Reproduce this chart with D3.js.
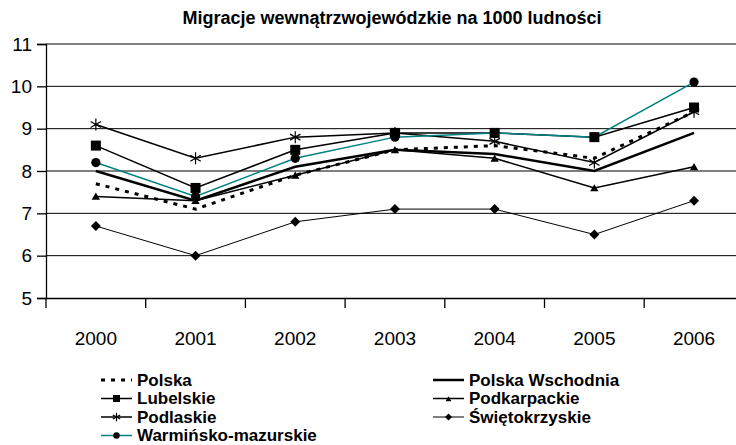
<!DOCTYPE html>
<html>
<head>
<meta charset="utf-8">
<script src="https://cdn.jsdelivr.net/npm/d3@7"></script>
<style>
  body { margin: 0; background: #fff; }
  svg { display: block; font-family: Arial, "Liberation Sans", sans-serif; }
</style>
</head>
<body>
<div id="chart"></div>
<script>
// data
var years = ['2000', '2001', '2002', '2003', '2004', '2005', '2006'];
var yTicks = [5, 6, 7, 8, 9, 10, 11];

var polska         = [7.7, 7.1, 7.9, 8.5, 8.6, 8.3, 9.4];
var polskaWsch     = [8.0, 7.3, 8.1, 8.5, 8.4, 8.0, 8.9];
var lubelskie      = [8.6, 7.6, 8.5, 8.9, 8.9, 8.8, 9.5];
var podkarpackie   = [7.4, 7.3, 7.9, 8.5, 8.3, 7.6, 8.1];
var podlaskie      = [9.1, 8.3, 8.8, 8.9, 8.7, 8.2, 9.4];
var swietokrzyskie = [6.7, 6.0, 6.8, 7.1, 7.1, 6.5, 7.3];
var warminsko      = [8.2, 7.4, 8.3, 8.8, 8.9, 8.8, 10.1];

var series = [
  {name: 'Polska', values: polska, color: '#000', width: 3, dash: '4,6', marker: null},
  {name: 'Polska Wschodnia', values: polskaWsch, color: '#000', width: 2.5, dash: null, marker: null},
  {name: 'Lubelskie', values: lubelskie, color: '#000', width: 1.5, dash: null, marker: 'square'},
  {name: 'Podkarpackie', values: podkarpackie, color: '#000', width: 1.5, dash: null, marker: 'triangle'},
  {name: 'Podlaskie', values: podlaskie, color: '#000', width: 1.5, dash: null, marker: 'star'},
  {name: 'Świętokrzyskie', values: swietokrzyskie, color: '#000', width: 1, dash: null, marker: 'diamond'},
  {name: 'Warmińsko-mazurskie', values: warminsko, color: '#008080', width: 1.5, dash: null, marker: 'circle'}
];

var W = 736, H = 445;
var margin = {left: 46, top: 44, bottom: 298};
var plotRight = margin.left + 7 * 99.7;

var svg = d3.select('#chart').append('svg')
  .attr('width', W).attr('height', H);

var x = d3.scaleBand().domain(years).range([margin.left, plotRight]);
var y = d3.scaleLinear().domain([5, 11]).range([margin.bottom, margin.top]);

// title
svg.append('text')
  .attr('x', 392).attr('y', 24)
  .attr('text-anchor', 'middle')
  .style('font-weight', 'bold')
  .style('font-size', '18px')
  .text('Migracje wewnątrzwojewódzkie na 1000 ludności');

// grid
svg.append('g').selectAll('line')
  .data(yTicks.filter(function(d){ return d > 5; }))
  .enter().append('line')
  .attr('x1', margin.left).attr('x2', plotRight)
  .attr('y1', function(d){ return y(d); })
  .attr('y2', function(d){ return y(d); })
  .attr('stroke', '#000')
  .attr('stroke-width', 1);

// axes
var yAxis = svg.append('g')
  .attr('transform', 'translate(' + margin.left + ',0)')
  .call(d3.axisLeft(y).tickValues(yTicks).tickSize(9).tickPadding(5).tickFormat(d3.format('d')));
yAxis.selectAll('text').style('font-size', '19px').attr('fill', '#000');
yAxis.selectAll('line, path').attr('stroke', '#000').attr('stroke-width', 1.3);

var xAxis = svg.append('g')
  .attr('transform', 'translate(0,' + margin.bottom + ')')
  .call(d3.axisBottom(x).tickSize(0).tickPadding(34));
xAxis.selectAll('text').style('font-size', '19px').attr('fill', '#000');
xAxis.select('.domain').attr('stroke', '#000').attr('stroke-width', 1.3);

// category separator ticks
svg.append('g').selectAll('line')
  .data(years)
  .enter().append('line')
  .attr('x1', function(d){ return x(d); })
  .attr('x2', function(d){ return x(d); })
  .attr('y1', margin.bottom).attr('y2', margin.bottom + 10)
  .attr('stroke', '#000').attr('stroke-width', 1.3);

var cx = function(i){ return x(years[i]) + x.bandwidth() / 2; };

var line = d3.line()
  .x(function(d, i){ return cx(i); })
  .y(function(d){ return y(d); });

function drawMarker(g, type, px, py, big) {
  var s = big ? 1 : 0.7;
  if (type === 'square') {
    g.append('rect').attr('x', px - 5 * s).attr('y', py - 5 * s)
      .attr('width', 10 * s).attr('height', 10 * s).attr('fill', '#000');
  } else if (type === 'triangle') {
    g.append('path').attr('d', d3.symbol(d3.symbolTriangle, 30 * s * s)())
      .attr('transform', 'translate(' + px + ',' + (py + 1) + ')').attr('fill', '#000');
  } else if (type === 'diamond') {
    var r = 5 * s;
    g.append('path')
      .attr('d', 'M' + px + ',' + (py - r) + 'L' + (px + r) + ',' + py + 'L' + px + ',' + (py + r) + 'L' + (px - r) + ',' + py + 'Z')
      .attr('fill', '#000');
  } else if (type === 'circle') {
    g.append('circle').attr('cx', px).attr('cy', py).attr('r', 4.6 * s).attr('fill', '#000');
  } else if (type === 'star') {
    var a = 6 * s;
    g.append('path')
      .attr('d', 'M' + px + ',' + (py - a) + 'L' + px + ',' + (py + a) +
        'M' + (px - a * 0.87) + ',' + (py - a * 0.5) + 'L' + (px + a * 0.87) + ',' + (py + a * 0.5) +
        'M' + (px - a * 0.87) + ',' + (py + a * 0.5) + 'L' + (px + a * 0.87) + ',' + (py - a * 0.5))
      .attr('stroke', '#000').attr('stroke-width', 1.2).attr('fill', 'none');
  }
}

// lines
var lines = svg.append('g');
series.forEach(function(s) {
  lines.append('path')
    .datum(s.values)
    .attr('d', line)
    .attr('fill', 'none')
    .attr('stroke', s.color)
    .attr('stroke-width', s.width)
    .attr('stroke-dasharray', s.dash);
});

// markers (circles below squares)
var markers = svg.append('g');
[6, 5, 4, 3, 2].forEach(function(k) {
  var s = series[k];
  s.values.forEach(function(v, i) {
    drawMarker(markers, s.marker, cx(i), y(v), true);
  });
});

// legend
var legendCols = [
  {x: 101, items: [0, 2, 4, 6]},
  {x: 433, items: [1, 3, 5]}
];
var rowY = [380, 398.5, 417, 435.5];
var legend = svg.append('g');
legendCols.forEach(function(col) {
  col.items.forEach(function(k, r) {
    var s = series[k];
    var ly = rowY[r];
    var len = 31;
    legend.append('line')
      .attr('x1', col.x).attr('x2', col.x + len)
      .attr('y1', ly).attr('y2', ly)
      .attr('stroke', s.color)
      .attr('stroke-width', s.width)
      .attr('stroke-dasharray', s.dash);
    if (s.marker) drawMarker(legend, s.marker, col.x + len / 2, ly, false);
    legend.append('text')
      .attr('x', col.x + len + 5).attr('y', ly)
      .attr('dy', '0.35em')
      .style('font-weight', 'bold')
      .style('font-size', '17px')
      .text(s.name);
  });
});
</script>
</body>
</html>
